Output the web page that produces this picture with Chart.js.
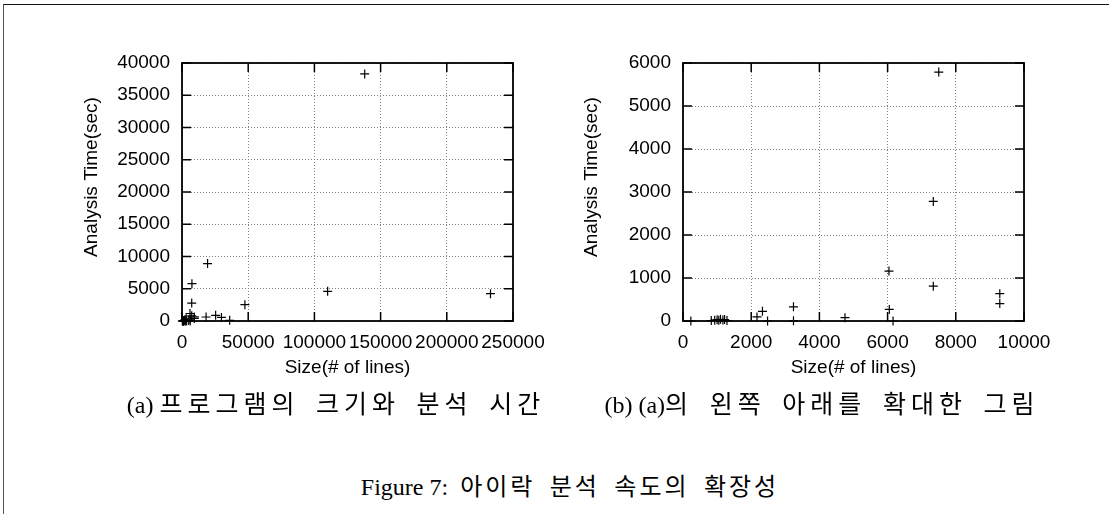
<!DOCTYPE html>
<html>
<head>
<meta charset="utf-8">
<script src="https://cdn.jsdelivr.net/npm/chart.js@4.4.1/dist/chart.umd.min.js"></script>
<style>
    html, body { margin: 0; padding: 0; background: #fff; }
    body { width: 1109px; height: 514px; position: relative; overflow: hidden; }
    #frame { position: absolute; left: 3px; top: 4px; width: 1120px; height: 520px; border-top: 1px solid #111; border-left: 1px solid #555; }
    canvas { position: absolute; top: 0; }
    #chartA { left: 0; }
    #chartB { left: 560px; }
    .cap {
        position: absolute; white-space: nowrap; color: #000;
        font-family: "Liberation Serif", "Noto Sans CJK KR", serif;
        font-size: 24px;
        transform: translate(-50%, -50%);
    }
    .cap .ko { font-family: "Noto Sans CJK KR", sans-serif; font-size: 25px; letter-spacing: 5px; word-spacing: 6px; }
    .cap .ko.fig { font-size: 24px; letter-spacing: 3px; }
</style>
</head>
<body>
<div id="frame"></div>
<canvas id="chartA" width="560" height="390"></canvas>
<canvas id="chartB" width="540" height="390"></canvas>
<div class="cap" style="left:336px; top:402px;">(a) <span class="ko">프로그램의 크기와 분석 시간</span></div>
<div class="cap" style="left:822px; top:402px;">(b) (a)<span class="ko">의 왼쪽 아래를 확대한 그림</span></div>
<div class="cap" style="left:570px; top:484px;">Figure 7:&nbsp;&nbsp;<span class="ko fig">아이락 분석 속도의 확장성</span></div>

<script>
// program size (# of lines) and analysis time (sec)
const sizes = [230, 830, 930, 1000, 1050, 1100, 1170, 1220, 1290,
               2170, 2330, 2480, 3240, 3240, 4750,
               6040, 6050, 6160, 7340, 7340, 7500, 9290, 9290,
               18200, 19300, 25400, 29800, 36000, 47500, 110000, 138000, 233000];
const times = [0, 10, 20, 30, 15, 40, 25, 35, 10,
               95, 225, 0, 330, 5, 78,
               1160, 270, 0, 810, 2780, 5790, 635, 405,
               620, 8900, 880, 560, 100, 2530, 4600, 38300, 4240];

// tick labels
const xTicksA = [0, 50000, 100000, 150000, 200000, 250000];
const yTicksA = [0, 5000, 10000, 15000, 20000, 25000, 30000, 35000, 40000];
const xTicksB = [0, 2000, 4000, 6000, 8000, 10000];
const yTicksB = [0, 1000, 2000, 3000, 4000, 5000, 6000];

const xTitle = 'Size(# of lines)';
const yTitle = 'Analysis Time(sec)';

const FONT = { family: '"Liberation Sans", Arial, sans-serif', size: 19 };

// gnuplot-style frame: solid box with ticks pointing inwards
const innerFrame = {
    id: 'innerFrame',
    beforeDatasetsDraw(chart) {
        const { ctx, chartArea: a, scales } = chart;
        const len = 9;
        ctx.save();
        ctx.strokeStyle = '#000';
        ctx.lineWidth = 1.5;
        ctx.beginPath();
        scales.x.ticks.forEach(t => {
            const px = scales.x.getPixelForValue(t.value);
            ctx.moveTo(px, a.bottom); ctx.lineTo(px, a.bottom - len);
            ctx.moveTo(px, a.top); ctx.lineTo(px, a.top + len);
        });
        scales.y.ticks.forEach(t => {
            const py = scales.y.getPixelForValue(t.value);
            ctx.moveTo(a.left, py); ctx.lineTo(a.left + len, py);
            ctx.moveTo(a.right, py); ctx.lineTo(a.right - len, py);
        });
        ctx.stroke();
        ctx.lineWidth = 1.8;
        ctx.strokeRect(a.left, a.top, a.right - a.left, a.bottom - a.top);
        ctx.restore();
    },
    // y title sits a little above the middle of the plot, as in the original
    afterDraw(chart, args, opts) {
        const { ctx, chartArea: a } = chart;
        ctx.save();
        ctx.translate(opts.titleX, (a.top + a.bottom) / 2 - 15);
        ctx.rotate(-Math.PI / 2);
        ctx.font = FONT.size + 'px ' + FONT.family;
        ctx.fillStyle = '#000';
        ctx.textAlign = 'center';
        ctx.textBaseline = 'middle';
        ctx.fillText(yTitle, 0, 0);
        ctx.restore();
    }
};

function makeChart(id, xTicks, yTicks, plotLeft, padRight, titleX) {
    const xMax = xTicks[xTicks.length - 1];
    const yMax = yTicks[yTicks.length - 1];
    const pts = [];
    sizes.forEach((s, i) => {
        if (s <= xMax && times[i] <= yMax) pts.push({ x: s, y: times[i] });
    });

    return new Chart(document.getElementById(id).getContext('2d'), {
        type: 'scatter',
        data: {
            datasets: [{
                data: pts,
                pointStyle: 'cross',
                pointRadius: 4.5,
                pointBorderWidth: 1.2,
                borderColor: '#000',
                backgroundColor: '#000',
                clip: false
            }]
        },
        options: {
            responsive: false,
            animation: false,
            events: [],
            layout: { autoPadding: false, padding: { left: 0, top: 63, right: padRight, bottom: 0 } },
            plugins: {
                legend: { display: false },
                tooltip: { enabled: false },
                innerFrame: { titleX: titleX }
            },
            scales: {
                x: {
                    type: 'linear', min: xTicks[0], max: xMax,
                    afterBuildTicks: s => { s.ticks = xTicks.map(v => ({ value: v })); },
                    afterFit: s => { s.height = 69; },
                    grid: { color: '#808080', lineWidth: 1, drawTicks: false },
                    border: { display: false, dash: [1, 2] },
                    ticks: { color: '#000', font: FONT, padding: 10, maxRotation: 0, autoSkip: false,
                             callback: v => String(v) },
                    title: { display: true, text: xTitle, color: '#000', font: FONT,
                             padding: { top: 0, bottom: 11 } }
                },
                y: {
                    type: 'linear', min: yTicks[0], max: yMax,
                    afterBuildTicks: s => { s.ticks = yTicks.map(v => ({ value: v })); },
                    afterFit: s => { s.width = plotLeft; },
                    grid: { color: '#808080', lineWidth: 1, drawTicks: false },
                    border: { display: false, dash: [1, 2] },
                    ticks: { color: '#000', font: FONT, padding: 12, autoSkip: false,
                             callback: v => String(v) }
                }
            }
        },
        plugins: [innerFrame]
    });
}

makeChart('chartA', xTicksA, yTicksA, 182, 47, 92);
makeChart('chartB', xTicksB, yTicksB, 123, 76, 32);
</script>
</body>
</html>
